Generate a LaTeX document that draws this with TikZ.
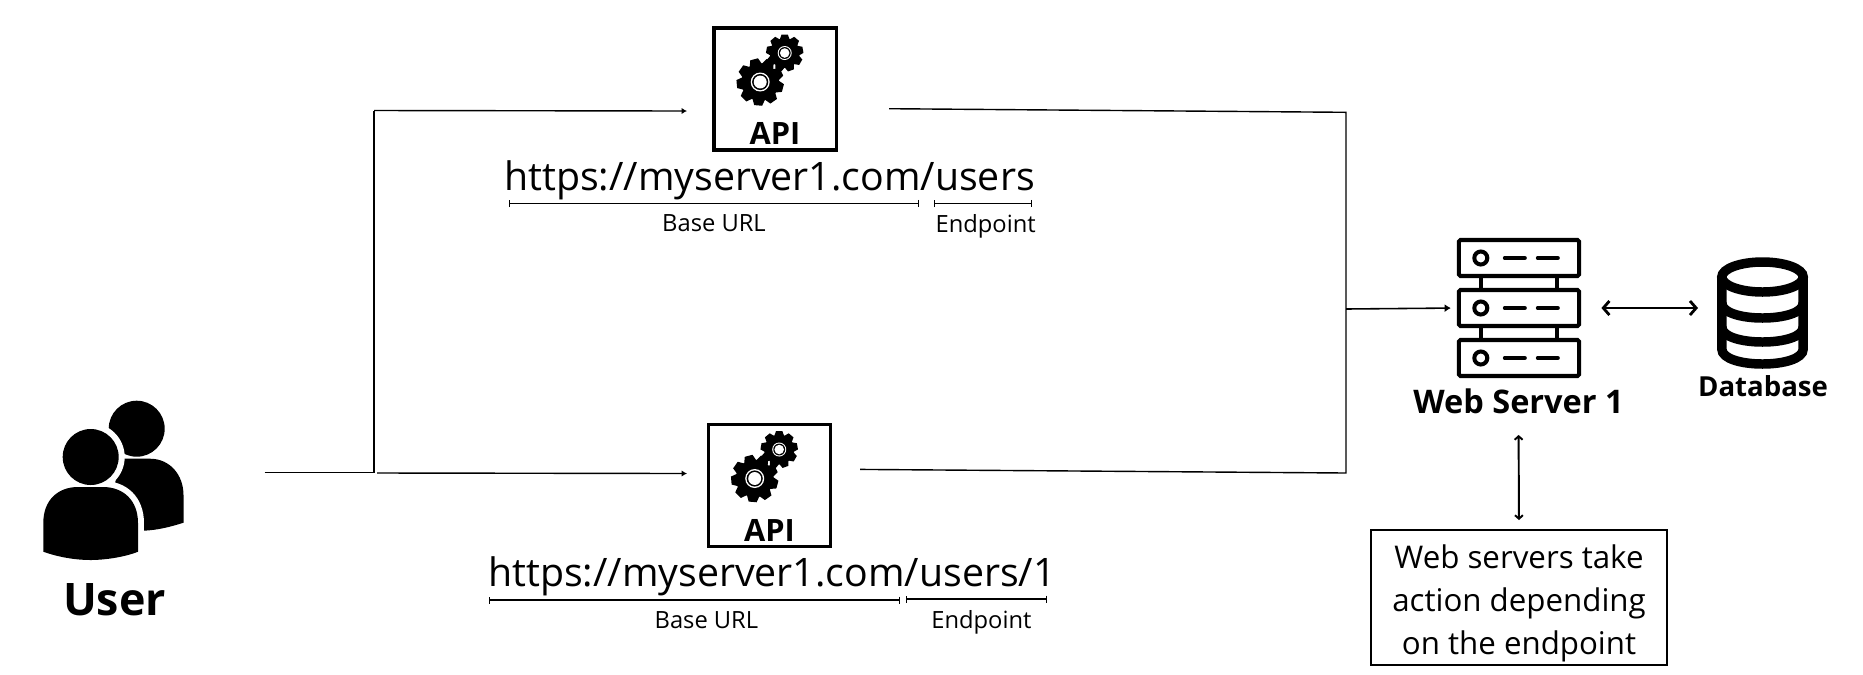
\documentclass[tikz,border=0pt]{standalone}
\usepackage{fontspec}
\setmainfont{Open Sans}
\usetikzlibrary{positioning}
\usetikzlibrary{arrows.meta}
\usetikzlibrary{calc}
\newcommand\gearwheel[4]{%
  \fill (#1) circle ({0.8*#2});
  \foreach \a in {0,40,...,320}
    \fill [shift={(#1)},rotate=\a+#3] ({0.72*#2},{-0.27*#2}) -- (#2,{-0.17*#2}) -- (#2,{0.17*#2}) -- ({0.72*#2},{0.27*#2}) -- cycle;
  \fill [white] (#1) circle (#4);
  \fill (#1) circle ({0.85*#4});
  \fill [white] (#1) circle ({0.68*#4});
}
\newcommand\apigears[1]{%
  \begin{scope}[shift={(#1)}]
    \gearwheel{0,0}{18.5}{10}{7}
    \gearwheel{-24.5,29}{23.5}{25}{9.5}
  \end{scope}
}

\begin{document}
\begin{tikzpicture}[x=0.02cm, y=-0.02cm, node distance=0.22cm,
  apibox/.style={draw,line width=2pt,minimum size=69.5pt,inner sep=0pt},
  apilabel/.style={font=\fontsize{17.5}{21}\selectfont\bfseries,inner sep=0pt},
  urlbig/.style={font=\fontsize{22.35}{26}\selectfont,anchor=base,inner sep=0pt},
  urlpart/.style={font=\fontsize{13.5}{17}\selectfont,inner sep=0pt},
  rack/.style={draw,line width=2.3pt,rounded corners=1pt,minimum width=68.5pt,minimum height=20.5pt,inner sep=0pt},
  flow/.style={line width=0.8pt,-{Latex[length=3pt,width=3.5pt]}},
  wire/.style={line width=0.8pt},
  span/.style={line width=0.7pt,{Bar[width=4pt]}-{Bar[width=4pt]}}]
\useasboundingbox (0,0) rectangle (1863,674);

% user
\fill (136.7,428.7) circle (28);
\fill (118,458.7) -- (150,458.7) .. controls (170,458.7) and (183.5,475) .. (183.5,495) -- (183.5,522.7) .. controls (170,527) and (158,530) .. (144,530.7) -- (110,530) -- cycle;
\fill [white] (90.7,457) circle (34);
\draw [white,line width=6.8pt] (43.3,551.7) -- (43.3,523) .. controls (43.3,500) and (58,487) .. (78,487) -- (103,487) .. controls (123,487) and (138,500) .. (138,523) -- (138,551.7);
\fill (90.7,457) circle (28);
\fill (43.3,551.7) -- (43.3,523) .. controls (43.3,500) and (58,487) .. (78,487) -- (103,487) .. controls (123,487) and (138,500) .. (138,523) -- (138,551.7) .. controls (125,557) and (105,560) .. (90.7,560) .. controls (75,560) and (58,557) .. (43.3,551.7) -- cycle;
\node [font=\fontsize{25.5}{30}\selectfont\bfseries,inner sep=0pt] (username) at (114.5,600) {User};

% api boxes
\node [apibox] (apione) at (775.3,89) {};
\node [apilabel] (apilabelone) at (775,133) {API};
\apigears{784.7,53}
\node [apibox] (apitwo) at (769.5,485.5) {};
\node [apilabel] (apilabeltwo) at (769.5,530) {API};
\apigears{779.2,449.5}

% urls
\node [urlbig] (urlone) at (769.5,190) {https://myserver1.com/users};
\coordinate (baseonea) at (509,203.5);
\coordinate (baseoneb) at (919,203.5);
\coordinate (endonea) at (934,203.5);
\coordinate (endoneb) at (1032,203.5);
\draw [span] (baseonea) -- (baseoneb) coordinate[midway] (baseonemid);
\draw [span] (endonea) -- (endoneb) coordinate[midway] (endonemid);
\node [urlpart,below = of baseonemid] (baseurlone) {Base URL};
\node [urlpart,below = of endonemid,xshift=1.5pt] (endpointone) {Endpoint};

\node [urlbig] (urltwo) at (772,586) {https://myserver1.com/users/1};
\coordinate (basetwoa) at (489,600);
\coordinate (basetwob) at (900,600);
\coordinate (endtwoa) at (906,599);
\coordinate (endtwob) at (1047,599);
\draw [span] (basetwoa) -- (basetwob) coordinate[midway] (basetwomid);
\draw [span] (endtwoa) -- (endtwob) coordinate[midway] (endtwomid);
\node [urlpart,below = of basetwomid,xshift=6.8pt] (baseurltwo) {Base URL};
\node [urlpart,below = of endtwomid,xshift=2.8pt] (endpointtwo) {Endpoint};

% web server
\node [rack] (rackone) at (1519,258) {};
\node [rack] (racktwo) at (1519,308) {};
\node [rack] (rackthree) at (1519,358) {};
\foreach \r in {rackone,racktwo,rackthree} {
  \draw [line width=2.3pt] ($(\r.west)+(24,0)$) circle (6.5);
  \draw [line width=2.3pt,line cap=round] ($(\r.west)+(48,0)$) -- ++(20,0);
  \draw [line width=2.3pt,line cap=round] ($(\r.west)+(81,0)$) -- ++(20,0);
}
\draw [line width=2.3pt] ($(rackone.south west)+(24,0)$) -- ($(racktwo.north west)+(24,0)$);
\draw [line width=2.3pt] ($(rackone.south east)+(-24,0)$) -- ($(racktwo.north east)+(-24,0)$);
\draw [line width=2.3pt] ($(racktwo.south west)+(24,0)$) -- ($(rackthree.north west)+(24,0)$);
\draw [line width=2.3pt] ($(racktwo.south east)+(-24,0)$) -- ($(rackthree.north east)+(-24,0)$);
\node [font=\fontsize{18.5}{23}\selectfont\bfseries,inner sep=0pt] (servername) at (1518.5,401) {Web Server 1};

% database
\draw [line width=5.4pt] (1762.5,277) ellipse (40.7 and 15);
\draw [line width=5.4pt] (1721.8,277) -- (1721.8,349) .. controls (1721.8,369) and (1803.2,369) .. (1803.2,349) -- (1803.2,277);
\draw [line width=5.4pt] (1721.8,303) .. controls (1721.8,323) and (1803.2,323) .. (1803.2,303);
\draw [line width=5.4pt] (1721.8,327) .. controls (1721.8,347) and (1803.2,347) .. (1803.2,327);
\coordinate (dbwest) at (1698,308);
\node [font=\fontsize{15.7}{20}\selectfont\bfseries,inner sep=0pt] (dbname) at (1763,386) {Database};

% note
\node [draw,line width=1.2pt,minimum width=168pt,minimum height=77pt,inner sep=0pt,align=center,
  font=\fontsize{17.8}{24.6}\selectfont] (note) at (1519,597.5) {\rule{0pt}{20.5pt}Web servers take\\action depending\\on the endpoint};

% wires
\coordinate (usertail) at (264.7,472.7);
\coordinate (joinleft) at (374,472.7);
\coordinate (jointop) at (374,110.5);
\coordinate (inone) at (687,111);
\coordinate (intwostart) at (377,473);
\coordinate (intwo) at (687,473.5);
\coordinate (outone) at (889,108.7);
\coordinate (outtwo) at (860,469.4);
\coordinate (joinright) at (1346,112.3);
\coordinate (joinlow) at (1346,473);
\coordinate (joinmid) at (1346,309);
\draw [wire] (usertail) -- (joinleft) -- (jointop);
\draw [flow] (jointop) -- (inone);
\draw [flow] (intwostart) -- (intwo);
\draw [wire] (outone) -- (joinright) -- (joinlow) -- (outtwo);
\draw [line width=0.9pt,-{Latex[length=3.5pt,width=4.5pt]},shorten >=3.4pt] (joinmid) -- (racktwo.west);

% double arrows
\draw [line width=1.6pt,{Straight Barb[length=3.5pt,width=8pt]}-{Straight Barb[length=3.5pt,width=8pt]},shorten <=11.5pt] (racktwo.east) -- (dbwest);
\draw [line width=1.1pt,{Straight Barb[length=2pt,width=4.5pt]}-{Straight Barb[length=2pt,width=4.5pt]},shorten <=12pt,shorten >=5pt] (servername.south) -- (note.north);
\end{tikzpicture}
\end{document}
